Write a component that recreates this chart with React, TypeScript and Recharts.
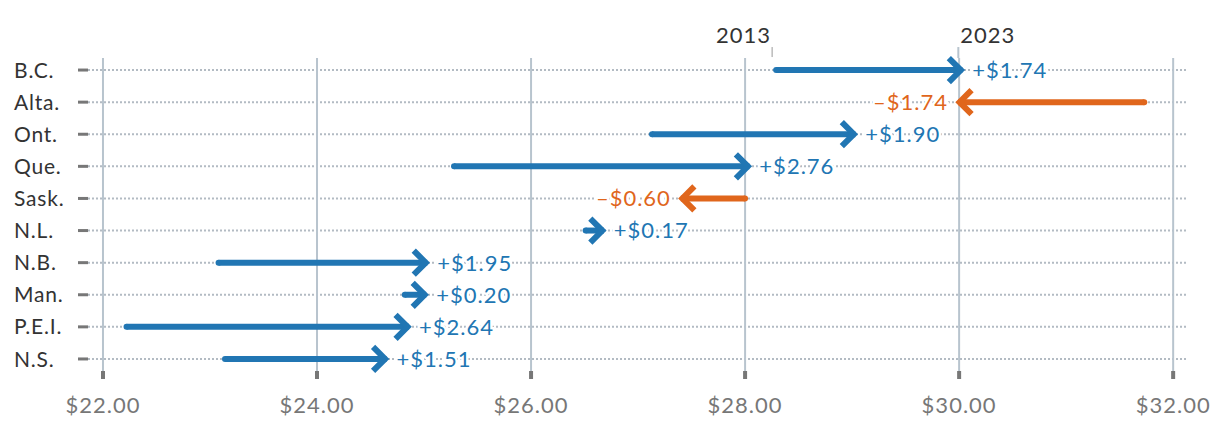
import { ScatterChart, Scatter, XAxis, YAxis, ReferenceLine } from "recharts";

const provinces = ["B.C.", "Alta.", "Ont.", "Que.", "Sask.", "N.L.", "N.B.", "Man.", "P.E.I.", "N.S."];
const wage2013 = [28.29, 31.73, 27.13, 25.28, 28.0, 26.51, 23.08, 24.82, 22.22, 23.14];
const wage2023 = [30.03, 29.99, 29.03, 28.04, 27.4, 26.68, 25.03, 25.02, 24.86, 24.65];
const xTicks = [22, 24, 26, 28, 30, 32];
const yTicks = provinces.map((_, i) => i);

const BLUE = "#2176b3";
const ORANGE = "#e0661c";
const FONT = "Lato, 'Open Sans', sans-serif";

const series = provinces.map((name, i) => ({
  name,
  color: wage2023[i] >= wage2013[i] ? BLUE : ORANGE,
  points: [
    { x: wage2013[i], y: i, kind: "start", row: i, from: wage2013[i], to: wage2023[i] },
    { x: wage2023[i], y: i, kind: "end", row: i, from: wage2013[i], to: wage2023[i] },
  ],
}));

function fmtChange(d: number) {
  return `${d >= 0 ? "+" : "–"}$${Math.abs(d).toFixed(2)}`;
}

function ArrowShape(props: any) {
  const { cx, cy, payload } = props;
  const up = payload.to >= payload.from;
  const color = up ? BLUE : ORANGE;
  const dir = up ? 1 : -1;
  if (payload.kind === "start") {
    return (
      <g>
        <circle cx={cx} cy={cy} r={3} fill={color} />
        {payload.row === 0 && (
          <g>
            <line x1={cx - 4} x2={cx - 4} y1={cy - 23} y2={cy - 13} stroke="#999" strokeWidth={1} />
            <text
              x={cx - 5}
              y={cy - 27}
              textAnchor="end"
              fontSize={22}
              letterSpacing={1}
              fill="#333"
              fontFamily={FONT}
            >
              2013
            </text>
          </g>
        )}
      </g>
    );
  }
  const arm = 12;
  const vx = cx - dir * 1.5;
  return (
    <g>
      <path
        d={`M${vx - dir * arm},${cy - arm} L${vx},${cy} L${vx - dir * arm},${cy + arm}`}
        fill="none"
        stroke={color}
        strokeWidth={6}
        strokeLinejoin="miter"
      />
      <text
        x={cx + dir * 10}
        y={cy}
        dy="0.36em"
        textAnchor={up ? "start" : "end"}
        fontSize={22}
        letterSpacing={1}
        fill={color}
        fontFamily={FONT}
        stroke="#fff"
        strokeWidth={5}
        paintOrder="stroke"
      >
        {fmtChange(payload.to - payload.from)}
      </text>
      {payload.row === 0 && (
        <g>
          <line x1={cx - 4} x2={cx - 4} y1={cy - 23} y2={cy - 12} stroke="#b8c4ce" strokeWidth={2} />
          <text
            x={cx - 2}
            y={cy - 27}
            textAnchor="start"
            fontSize={22}
            letterSpacing={1}
            fill="#333"
            fontFamily={FONT}
          >
            2023
          </text>
        </g>
      )}
    </g>
  );
}

function ProvinceTick(props: any) {
  const { y, payload } = props;
  return (
    <text
      x={14}
      y={y}
      dy="0.36em"
      textAnchor="start"
      fontSize={21}
      letterSpacing={0.8}
      fill="#333"
      fontFamily={FONT}
    >
      {provinces[payload.value]}
    </text>
  );
}

export default function App() {
  return (
    <div style={{ position: "absolute", left: 0, top: 0, background: "#fff" }}>
      <ScatterChart width={1220} height={426} margin={{ top: 58, right: 34, bottom: 0, left: 0 }}>
        <XAxis
          type="number"
          dataKey="x"
          domain={[21.86, 32.12]}
          ticks={xTicks}
          tickFormatter={(v: number) => `$${v.toFixed(2)}`}
          axisLine={false}
          tickLine={{ stroke: "#777", strokeWidth: 4 }}
          tickSize={8}
          tickMargin={18}
          height={55}
          tick={{ fill: "#777", fontSize: 22, fontFamily: FONT, letterSpacing: 1 }}
        />
        <YAxis
          type="number"
          dataKey="y"
          domain={[-0.375, 9.375]}
          reversed
          ticks={yTicks}
          interval={0}
          width={88}
          axisLine={false}
          tickLine={{ stroke: "#777", strokeWidth: 3 }}
          tickSize={10}
          tick={<ProvinceTick />}
        />
        {yTicks.map((i) => (
          <ReferenceLine key={`h${i}`} y={i} stroke="#b3bbc3" strokeWidth={2} strokeDasharray="2 2" />
        ))}
        {xTicks.map((t) => (
          <ReferenceLine key={`v${t}`} x={t} stroke="#b8c4ce" strokeWidth={2} />
        ))}
        {series.map((s) => (
          <Scatter
            key={s.name}
            name={s.name}
            data={s.points}
            line={{ stroke: s.color, strokeWidth: 6 }}
            lineType="joint"
            shape={<ArrowShape />}
            isAnimationActive={false}
          />
        ))}
      </ScatterChart>
    </div>
  );
}
